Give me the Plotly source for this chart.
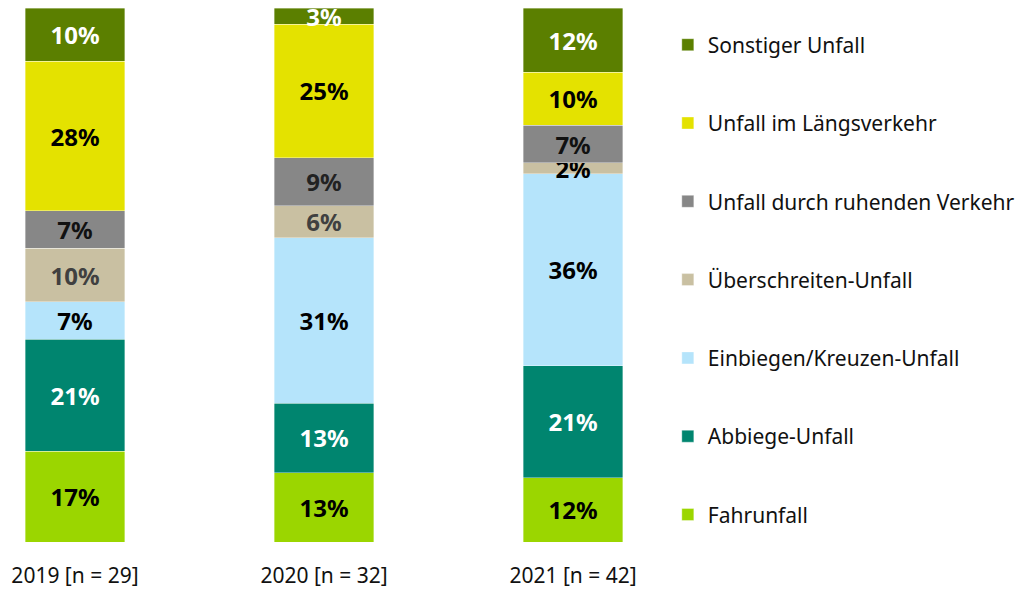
import plotly.graph_objects as go

years = ["2019 [n = 29]", "2020 [n = 32]", "2021 [n = 42]"]
positions = [0, 1, 2]

series_names = [
    "Fahrunfall",
    "Abbiege-Unfall",
    "Einbiegen/Kreuzen-Unfall",
    "Überschreiten-Unfall",
    "Unfall durch ruhenden Verkehr",
    "Unfall im Längsverkehr",
    "Sonstiger Unfall",
]
fahrunfall = [17, 13, 12]
abbiege = [21, 13, 21]
einbiegen = [7, 31, 36]
ueberschreiten = [10, 6, 2]
ruhend = [7, 9, 7]
laengs = [28, 25, 10]
sonstiger = [10, 3, 12]
values = [fahrunfall, abbiege, einbiegen, ueberschreiten, ruhend, laengs, sonstiger]

colors = ["#9bd600", "#00856f", "#b5e4fb", "#c9c0a2", "#878787", "#e4e200", "#5b7f00"]
text_colors = [
    ["#000000"] * 3,
    ["#ffffff"] * 3,
    ["#000000"] * 3,
    ["#404040", "#404040", "#000000"],
    ["#111111", "#222222", "#111111"],
    ["#000000"] * 3,
    ["#ffffff"] * 3,
]

FONT = "Noto Sans"

fig = go.Figure()
n = len(series_names)
for i, (name, vals, col, tcol) in enumerate(zip(series_names, values, colors, text_colors)):
    fig.add_trace(go.Bar(
        x=positions, y=vals, name=name, width=0.4,
        marker=dict(color=col, line=dict(color="rgba(255,255,255,0.6)", width=0.6)),
        text=[f"{v}%" for v in vals],
        texttemplate="%{text}",
        textposition="inside",
        insidetextanchor="middle",
        constraintext="none",
        textfont=dict(family=FONT, size=24, color=tcol, weight="bold"),
        legendgroup=name,
        legendrank=n - i,
        hoverinfo="skip",
    ))

fig.update_layout(
    barmode="stack",
    width=1015, height=581,
    margin=dict(l=0, r=363, t=0, b=44),
    paper_bgcolor="white", plot_bgcolor="white",
    font=dict(family=FONT, color="#111111"),
    xaxis=dict(
        range=[-0.269, 2.349],
        tickmode="array", tickvals=positions, ticktext=years,
        showgrid=False, zeroline=False, showline=False,
        ticks="outside", ticklen=15, tickcolor="rgba(0,0,0,0)",
        tickfont=dict(family=FONT, size=21, color="#111111"),
    ),
    yaxis=dict(range=[0, 100], visible=False, showgrid=False),
    legend=dict(
        x=1.012, xanchor="left", y=0.969, yanchor="top",
        traceorder="grouped",
        tracegroupgap=48,
        font=dict(family=FONT, size=21, color="#111111"),
        itemclick=False, itemdoubleclick=False,
        bgcolor="rgba(0,0,0,0)",
    ),
    showlegend=True,
)

fig.write_html("out.html")
